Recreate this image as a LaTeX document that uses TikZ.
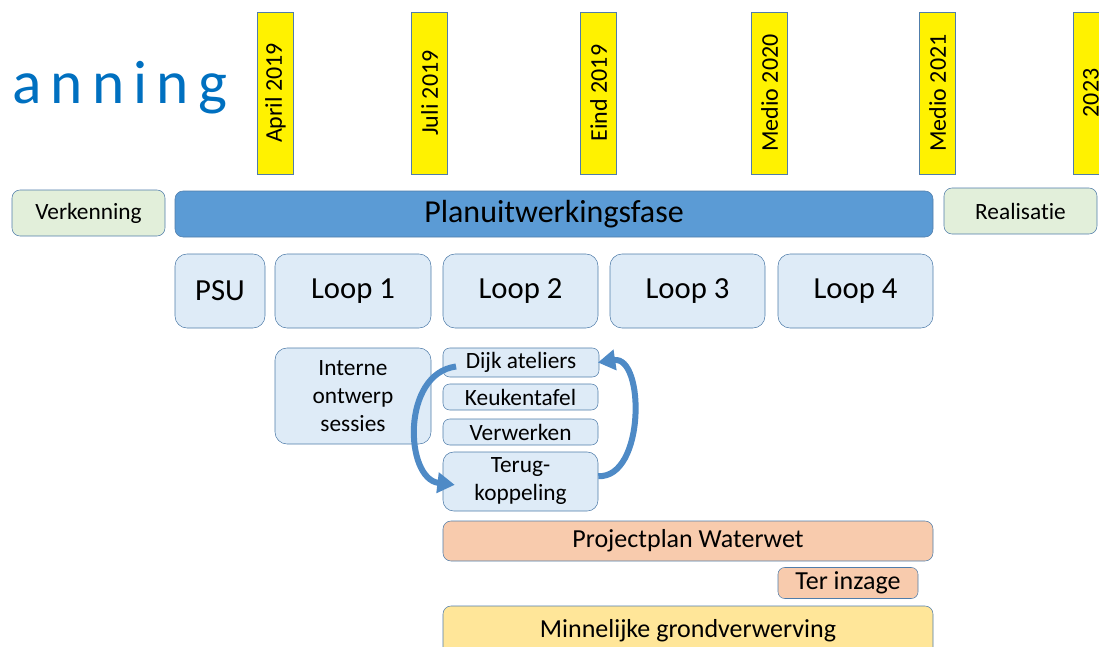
\documentclass[tikz,border=0pt]{standalone}
\usepackage{fontspec}
\setmainfont{Carlito}[Ligatures=NoCommon]
\usetikzlibrary{arrows.meta}

\definecolor{titleblue}{RGB}{0,112,192}
\definecolor{edgeblue}{RGB}{80,125,170}
\definecolor{planblue}{RGB}{91,155,213}
\definecolor{loopblue}{RGB}{222,235,247}
\definecolor{phasegreen}{RGB}{226,239,218}
\definecolor{salmon}{RGB}{248,203,173}
\definecolor{sand}{RGB}{255,230,153}
\definecolor{arcblue}{RGB}{78,138,198}

\begin{document}
\begin{tikzpicture}[x=0.75pt,y=-0.75pt]
\tikzstyle{datebar}=[draw=edgeblue,fill=yellow,rotate=90,inner sep=0pt,minimum width=121.5pt,minimum height=27pt,font=\fontsize{18}{20}\selectfont]
\tikzstyle{phase}=[draw=edgeblue,fill=phasegreen,rounded corners=6pt,inner sep=0pt,minimum height=34.5pt,font=\fontsize{17.5}{20}\selectfont]
\tikzstyle{loopbox}=[draw=edgeblue,fill=loopblue,rounded corners=9pt,inner sep=0pt,minimum height=55.5pt,font=\fontsize{23}{26}\selectfont]
\tikzstyle{step box}=[draw=edgeblue,fill=loopblue,rounded corners=5pt,inner sep=0pt,minimum width=116.25pt,align=center,font=\fontsize{17.5}{21}\selectfont]
\tikzstyle{wide}=[draw=edgeblue,rounded corners=6pt,inner sep=0pt,font=\fontsize{19.5}{22}\selectfont]
\tikzstyle{arc}=[draw=arcblue,line width=4.5pt,-{Triangle[length=13pt,width=15pt]}]

\useasboundingbox (0,0) rectangle (1099,646);

%title, cut off on the left
\node[anchor=base west,inner sep=0pt,text=titleblue,font=\fontsize{46}{50}\selectfont\addfontfeature{LetterSpace=15}] (title) at (12,103) {anning};

%date bars
\node[datebar] (d1) at (275.5,93) {April 2019};
\node[datebar] (d2) at (429.5,93) {Juli 2019};
\node[datebar] (d3) at (598.5,93) {Eind 2019};
\node[datebar] (d4) at (769.5,93) {Medio 2020};
\node[datebar] (d5) at (937.5,93) {Medio 2021};
\node[datebar] (d6) at (1091,93) {2023};

%phases
\node[phase,minimum width=114.75pt] (verk) at (88.5,213) {Verkenning};
\node[phase,fill=planblue,minimum width=568.5pt,font=\fontsize{24}{26}\selectfont] (plan) at (554,214) {Planuitwerkingsfase};
\node[phase,minimum width=114.75pt] (real) at (1020.5,211) {Realisatie};

%loops
\node[loopbox,minimum width=67.5pt] (psu) at (220,291) {PSU};
\node[loopbox,minimum width=117pt] (l1) at (353,291) {Loop 1};
\node[loopbox,minimum width=116.25pt] (l2) at (520.5,291) {Loop 2};
\node[loopbox,minimum width=116.25pt] (l3) at (687.5,291) {Loop 3};
\node[loopbox,minimum width=116.25pt] (l4) at (855.5,291) {Loop 4};

%steps under loop 1 and loop 2
\node[step box,rounded corners=9pt,minimum width=117pt,minimum height=72pt] (intern) at (353,396) {Interne\\ontwerp\\sessies};
\node[step box,minimum width=117pt,minimum height=21.75pt] (dijk) at (521,362.5) {Dijk ateliers};
\node[step box,minimum height=19.5pt] (keuk) at (520.5,397) {Keukentafel};
\node[step box,minimum height=19.5pt] (verw) at (520.5,432) {Verwerken};
\node[step box,rounded corners=8pt,minimum height=44.25pt] (terug) at (520.5,481.5) {Terug-\\koppeling};

%feedback circle
\draw[arc] ([xshift=10pt,yshift=-3pt]dijk.west) .. controls +(-55,7) and +(-50,-6) .. ([xshift=9pt,yshift=-2.5pt]terug.west);
\draw[arc] ([yshift=4pt]terug.east) .. controls +(47,2) and +(47,-7) .. ([xshift=-1pt]dijk.east);

%procedures
\node[wide,fill=salmon,minimum width=367.5pt,minimum height=30pt] (pww) at (688,541) {Projectplan Waterwet};
\node[wide,fill=salmon,rounded corners=5pt,minimum width=105pt,minimum height=23.25pt] (inzage) at (848,583) {Ter inzage};
\node[wide,fill=sand,minimum width=367.5pt,minimum height=37.5pt] (grond) at (688,631) {Minnelijke grondverwerving};
\end{tikzpicture}
\end{document}
